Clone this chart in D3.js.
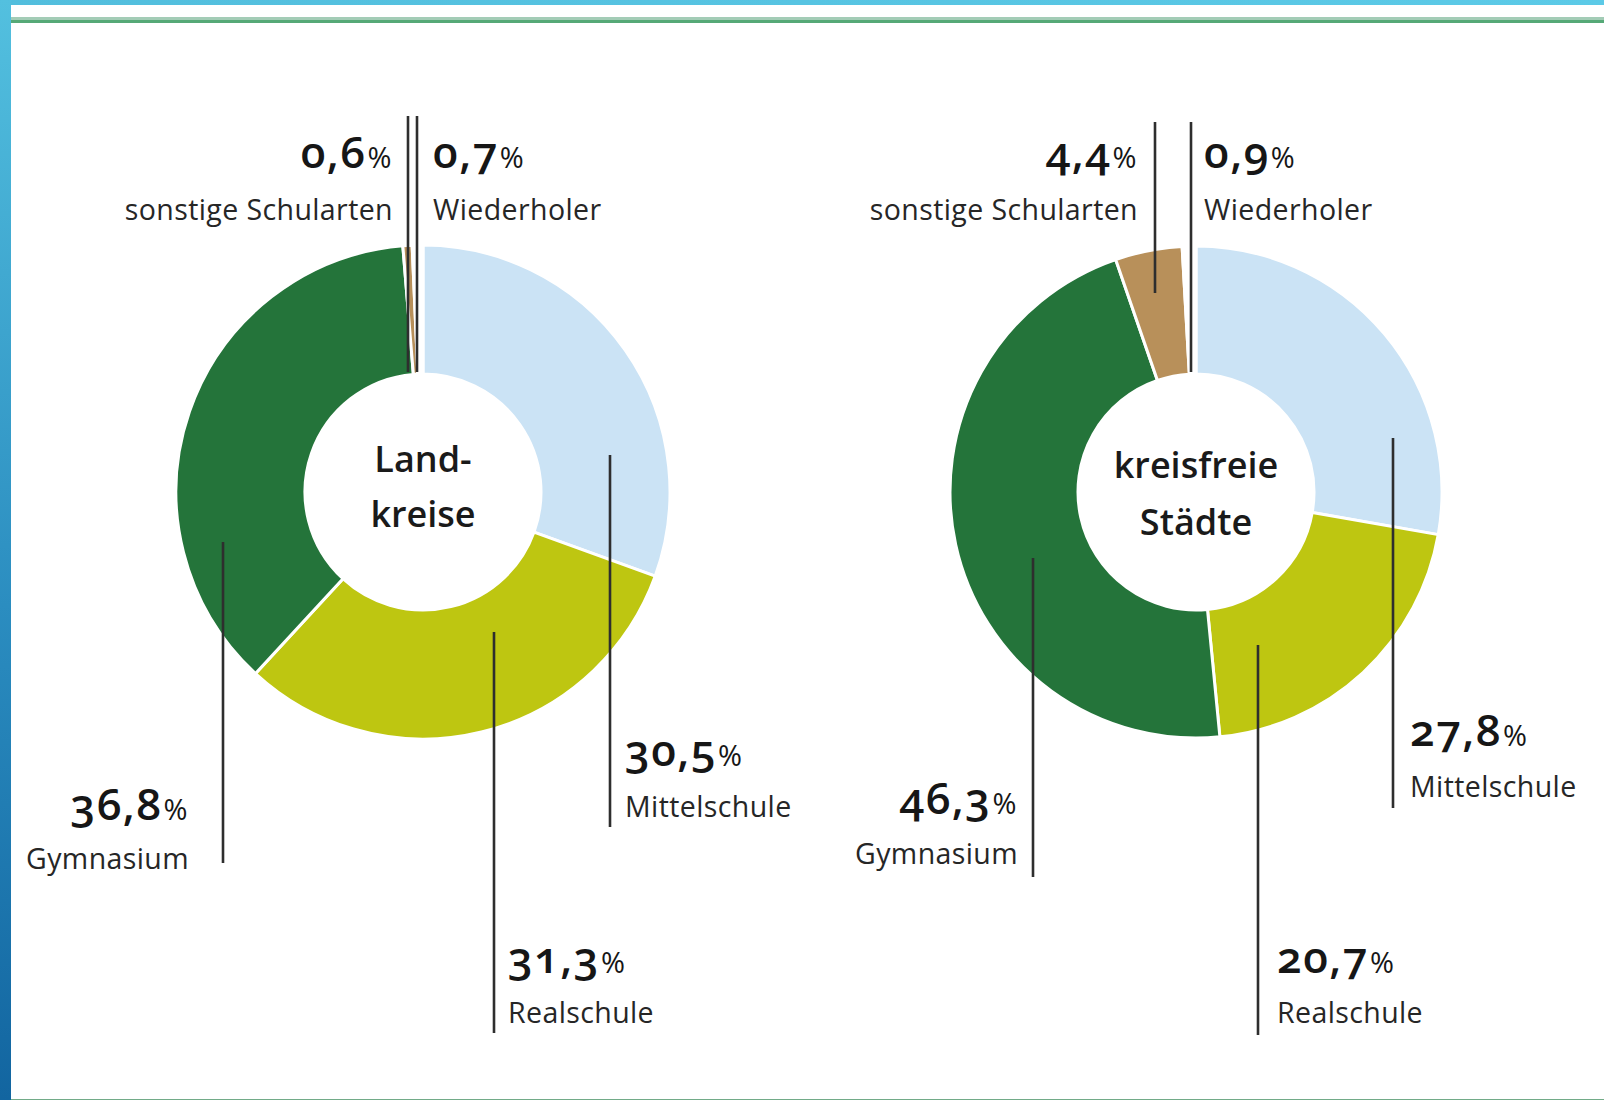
<!DOCTYPE html>
<html><head><meta charset="utf-8">
<script src="https://cdn.jsdelivr.net/npm/d3@7"></script>
<style>
html,body{margin:0;padding:0;background:#fff;}
svg{display:block}
text{font-family:"Open Sans","Noto Sans",sans-serif;font-variant-numeric:oldstyle-nums;font-feature-settings:"onum" 1;}
</style>
</head><body>
<svg id="c" width="1604" height="1100"></svg>
<script>
// ---- data ----
const categories = ["Mittelschule", "Realschule", "Gymnasium", "sonstige Schularten", "Wiederholer"];
const landkreiseValues = [30.5, 31.3, 36.8, 0.6, 0.7];
const staedteValues = [27.8, 20.7, 46.3, 4.4, 0.9];
const centerTitles = [["Land-", "kreise"], ["kreisfreie", "Städte"]];

// ---- styles ----
const sliceColors = ["#cbe3f5", "#bec611", "#24743a", "#b8905a", "#ffffff"];

// ---- layout ----
const charts = [
  { values: landkreiseValues, title: centerTitles[0], cx: 423, cy: 492, R: 247, r: 118, titleY: [472, 527],
    leaders: [
      { x: 610, y1: 455, y2: 827, tx: 625, ny: 766, ly: 817, anchor: "start" },
      { x: 494, y1: 632, y2: 1033, tx: 508, ny: 973, ly: 1023, anchor: "start" },
      { x: 223, y1: 542, y2: 863, tx: 189, ny: 820, ly: 869, anchor: "end" },
      { x: 408, y1: 116, y2: 372, tx: 393, ny: 168, ly: 220, anchor: "end" },
      { x: 417, y1: 116, y2: 372, tx: 433, ny: 168, ly: 220, anchor: "start" }
    ] },
  { values: staedteValues, title: centerTitles[1], cx: 1196, cy: 492, R: 246, r: 118, titleY: [478, 535],
    leaders: [
      { x: 1393, y1: 438, y2: 808, tx: 1410, ny: 746, ly: 797, anchor: "start" },
      { x: 1258, y1: 645, y2: 1035, tx: 1277, ny: 973, ly: 1023, anchor: "start" },
      { x: 1033, y1: 558, y2: 877, tx: 1018, ny: 814, ly: 864, anchor: "end" },
      { x: 1155, y1: 122, y2: 293, tx: 1138, ny: 168, ly: 220, anchor: "end" },
      { x: 1191, y1: 122, y2: 372, tx: 1204, ny: 168, ly: 220, anchor: "start" }
    ] }
];

const de = d3.formatLocale({ decimal: ",", thousands: ".", grouping: [3], currency: ["", " €"] });
const fmt = de.format(".1f");

const svg = d3.select("#c");

// ---- frame ----
const defs = svg.append("defs");
const gv = defs.append("linearGradient").attr("id", "gv").attr("x1", 0).attr("y1", 0).attr("x2", 0).attr("y2", 1);
gv.append("stop").attr("offset", "0%").attr("stop-color", "#53c0df");
gv.append("stop").attr("offset", "55%").attr("stop-color", "#2b8dc0");
gv.append("stop").attr("offset", "100%").attr("stop-color", "#1265a0");
const gh = defs.append("linearGradient").attr("id", "gh").attr("x1", 0).attr("y1", 0).attr("x2", 1).attr("y2", 0);
gh.append("stop").attr("offset", "0%").attr("stop-color", "#52bedd");
gh.append("stop").attr("offset", "100%").attr("stop-color", "#5ccae7");

svg.append("rect").attr("x", 0).attr("y", 0).attr("width", 1604).attr("height", 5).attr("fill", "url(#gh)");
svg.append("rect").attr("x", 0).attr("y", 0).attr("width", 11).attr("height", 1100).attr("fill", "url(#gv)");
svg.append("rect").attr("x", 11).attr("y", 17).attr("width", 1593).attr("height", 3).attr("fill", "#a3ccb6");
svg.append("rect").attr("x", 11).attr("y", 20).attr("width", 1593).attr("height", 3).attr("fill", "#56a977");
svg.append("rect").attr("x", 11).attr("y", 1099).attr("width", 1593).attr("height", 1).attr("fill", "#72ab88");

// ---- charts ----
const pie = d3.pie().sort(null).value(d => d);
const color = d3.scaleOrdinal().domain(categories).range(sliceColors);

charts.forEach(ch => {
  const arc = d3.arc().innerRadius(ch.r).outerRadius(ch.R);
  const g = svg.append("g").attr("transform", `translate(${ch.cx},${ch.cy})`);
  g.selectAll("path").data(pie(ch.values)).join("path")
    .attr("d", arc)
    .attr("fill", (d, i) => color(categories[i]))
    .attr("stroke", "#fff").attr("stroke-width", 3).attr("stroke-linejoin", "miter");

  // center title
  svg.append("g").selectAll("text").data(ch.title).join("text")
    .attr("x", ch.cx).attr("y", (d, i) => ch.titleY[i])
    .attr("text-anchor", "middle")
    .attr("font-size", 36).attr("font-weight", 600).attr("fill", "#1a1a1a")
    .text(d => d);

  // leader lines
  svg.append("g").selectAll("line").data(ch.leaders).join("line")
    .attr("x1", d => d.x).attr("x2", d => d.x)
    .attr("y1", d => d.y1).attr("y2", d => d.y2)
    .attr("stroke", "#2e2e2e").attr("stroke-width", 2.6);

  // labels
  const lg = svg.append("g");
  ch.leaders.forEach((L, i) => {
    const t = lg.append("text").attr("x", L.tx).attr("y", L.ny)
      .attr("text-anchor", L.anchor).attr("fill", "#161616")
      .attr("font-size", 44).attr("font-weight", 550).attr("letter-spacing", 1.5);
    t.append("tspan").text(fmt(ch.values[i]));
    t.append("tspan").attr("font-size", 29).attr("font-weight", 500).attr("dx", 1).text("%");
    lg.append("text").attr("x", L.tx).attr("y", L.ly)
      .attr("text-anchor", L.anchor).attr("fill", "#262626")
      .attr("font-size", 28.5).attr("font-weight", 500).attr("letter-spacing", 0.4)
      .text(categories[i]);
  });
});
</script>
</body></html>
